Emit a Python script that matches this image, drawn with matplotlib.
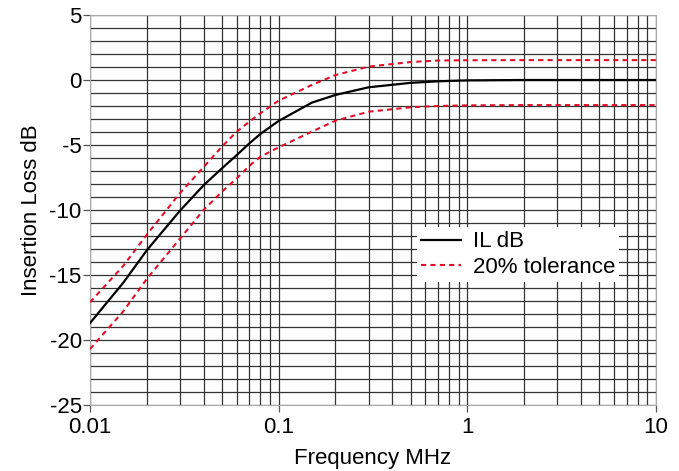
import numpy as np
import matplotlib.pyplot as plt
from matplotlib.ticker import FixedLocator, NullFormatter

plt.rcParams['font.family'] = ['Liberation Sans', 'DejaVu Sans']
plt.rcParams['axes.unicode_minus'] = False

# frequency points (MHz) and levels (dB)
freq = [0.01, 0.015, 0.02, 0.03, 0.04, 0.05, 0.06, 0.07, 0.08, 0.1, 0.15, 0.2, 0.3, 0.5, 0.7, 1, 2, 5, 10]
il_db = [-18.7, -15.6, -13.1, -10.05, -8.1, -6.8, -5.77, -4.87, -4.15, -3.15, -1.74, -1.15, -0.56, -0.22, -0.1, -0.03, 0.0, 0.0, 0.0]
tol_hi = [-17.1, -14.3, -11.9, -8.7, -6.7, -5.13, -3.97, -3.2, -2.56, -1.59, -0.38, 0.38, 1.03, 1.38, 1.5, 1.52, 1.53, 1.53, 1.53]
tol_lo = [-20.7, -17.8, -15.3, -12.2, -10.0, -8.6, -7.56, -6.6, -5.9, -5.18, -3.97, -3.13, -2.44, -2.1, -2.0, -1.95, -1.93, -1.93, -1.93]

fig = plt.figure(figsize=(6.79, 4.71), dpi=100)
ax = fig.add_axes([90 / 679, 1 - 405 / 471, 566 / 679, 390 / 471])

ax.plot(freq, il_db, color='black', lw=1.6, label='IL dB', zorder=3)
ax.plot(freq, tol_hi, color='#e0102a', lw=1.5, ls=(0, (2.5, 2)), label='20% tolerance', zorder=3)
ax.plot(freq, tol_lo, color='#e0102a', lw=1.5, ls=(0, (2.5, 2)), zorder=3)

ax.set_xscale('log')
ax.set_xlim(0.01, 10)
ax.set_ylim(-25, 5)

ax.set_xticks([0.01, 0.1, 1, 10])
ax.set_xticklabels(['0.01', '0.1', '1', '10'])
ax.xaxis.set_minor_locator(FixedLocator([m * 10.0 ** e for e in (-2, -1, 0) for m in range(2, 10)]))
ax.xaxis.set_minor_formatter(NullFormatter())
ax.set_yticks(np.arange(-25, 6, 5))
ax.yaxis.set_minor_locator(FixedLocator(np.arange(-25, 6, 1)))

ax.grid(True, which='both', color='#333333', lw=0.9)
ax.tick_params(which='major', direction='out', length=5, width=0.9,
               labelsize=16, color='#555555')
ax.tick_params(axis='x', which='major', pad=3.5)
ax.tick_params(axis='y', which='major', pad=1)
ax.tick_params(which='minor', length=0)
for sp in ax.spines.values():
    sp.set_color('#aaaaaa')

ax.set_xlabel('Frequency MHz', fontsize=16, labelpad=7)
ax.set_ylabel('Insertion Loss dB', fontsize=16, labelpad=5)

leg = ax.legend(loc='upper left', bbox_to_anchor=(417 / 679, 1 - 227 / 471),
                bbox_transform=fig.transFigure, fontsize=16,
                frameon=True, fancybox=False, framealpha=1, edgecolor='white',
                handlelength=1.8, handletextpad=0.5, borderpad=0.2,
                labelspacing=0.2, borderaxespad=0)
leg.get_frame().set_linewidth(0)

fig.savefig('out.png', dpi=100)
